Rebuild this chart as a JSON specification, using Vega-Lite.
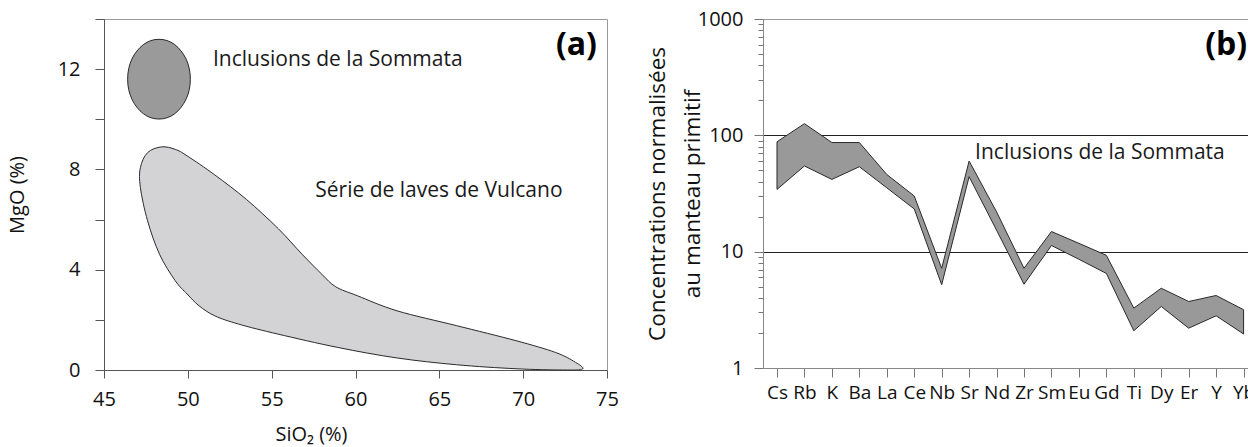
{
  "$schema": "https://vega.github.io/schema/vega-lite/v6.json",
  "background": "white",
  "padding": {"left": 6, "top": 8, "right": -6, "bottom": 0},
  "bounds": "flush",
  "spacing": 156,
  "config": {
    "font": "Open Sans",
    "view": {"stroke": "#9a9a9a", "strokeWidth": 1},
    "axis": {
      "labelFont": "Open Sans", "titleFont": "Open Sans",
      "labelColor": "#111", "titleColor": "#111", "titleFontWeight": "normal",
      "grid": false, "labelFontSize": 20, "titleFontSize": 20,
      "domainColor": "#555", "tickColor": "#555", "domainWidth": 1, "tickWidth": 1,
      "labelFlush": false, "labelOverlap": false, "labelBound": false
    },
    "text": {"font": "Open Sans", "color": "#1a1a1a"}
  },
  "datasets": {
    "vulcano": [
      {"i": 1, "SiO2": 48.43, "MgO": 8.90},
      {"i": 2, "SiO2": 49.25, "MgO": 8.80},
      {"i": 3, "SiO2": 49.96, "MgO": 8.54},
      {"i": 4, "SiO2": 51.61, "MgO": 7.78},
      {"i": 5, "SiO2": 53.50, "MgO": 6.80},
      {"i": 6, "SiO2": 55.39, "MgO": 5.64},
      {"i": 7, "SiO2": 56.81, "MgO": 4.62},
      {"i": 8, "SiO2": 57.99, "MgO": 3.82},
      {"i": 9, "SiO2": 58.82, "MgO": 3.32},
      {"i": 10, "SiO2": 60.12, "MgO": 2.96},
      {"i": 11, "SiO2": 62.48, "MgO": 2.36},
      {"i": 12, "SiO2": 66.02, "MgO": 1.77},
      {"i": 13, "SiO2": 69.57, "MgO": 1.17},
      {"i": 14, "SiO2": 71.93, "MgO": 0.70},
      {"i": 15, "SiO2": 73.11, "MgO": 0.31},
      {"i": 16, "SiO2": 73.54, "MgO": 0.04},
      {"i": 17, "SiO2": 72.40, "MgO": 0.00},
      {"i": 18, "SiO2": 69.57, "MgO": 0.05},
      {"i": 19, "SiO2": 66.02, "MgO": 0.21},
      {"i": 20, "SiO2": 62.48, "MgO": 0.48},
      {"i": 21, "SiO2": 58.94, "MgO": 0.90},
      {"i": 22, "SiO2": 55.39, "MgO": 1.43},
      {"i": 23, "SiO2": 53.03, "MgO": 1.83},
      {"i": 24, "SiO2": 51.61, "MgO": 2.16},
      {"i": 25, "SiO2": 50.67, "MgO": 2.56},
      {"i": 26, "SiO2": 49.96, "MgO": 3.03},
      {"i": 27, "SiO2": 49.25, "MgO": 3.56},
      {"i": 28, "SiO2": 48.31, "MgO": 4.62},
      {"i": 29, "SiO2": 47.60, "MgO": 5.95},
      {"i": 30, "SiO2": 47.17, "MgO": 7.28},
      {"i": 31, "SiO2": 47.17, "MgO": 8.07},
      {"i": 32, "SiO2": 47.60, "MgO": 8.67}
    ],
    "sommata": [
      {"i": 1, "SiO2": 50.15, "MgO": 11.60},
      {"i": 2, "SiO2": 50.09, "MgO": 12.01},
      {"i": 3, "SiO2": 49.90, "MgO": 12.40},
      {"i": 4, "SiO2": 49.60, "MgO": 12.72},
      {"i": 5, "SiO2": 49.22, "MgO": 12.98},
      {"i": 6, "SiO2": 48.76, "MgO": 13.14},
      {"i": 7, "SiO2": 48.28, "MgO": 13.19},
      {"i": 8, "SiO2": 47.80, "MgO": 13.14},
      {"i": 9, "SiO2": 47.35, "MgO": 12.98},
      {"i": 10, "SiO2": 46.96, "MgO": 12.72},
      {"i": 11, "SiO2": 46.66, "MgO": 12.40},
      {"i": 12, "SiO2": 46.47, "MgO": 12.01},
      {"i": 13, "SiO2": 46.41, "MgO": 11.60},
      {"i": 14, "SiO2": 46.47, "MgO": 11.19},
      {"i": 15, "SiO2": 46.66, "MgO": 10.81},
      {"i": 16, "SiO2": 46.96, "MgO": 10.48},
      {"i": 17, "SiO2": 47.35, "MgO": 10.22},
      {"i": 18, "SiO2": 47.80, "MgO": 10.06},
      {"i": 19, "SiO2": 48.28, "MgO": 10.01},
      {"i": 20, "SiO2": 48.76, "MgO": 10.06},
      {"i": 21, "SiO2": 49.22, "MgO": 10.22},
      {"i": 22, "SiO2": 49.60, "MgO": 10.48},
      {"i": 23, "SiO2": 49.90, "MgO": 10.81},
      {"i": 24, "SiO2": 50.09, "MgO": 11.19}
    ],
    "spider": [
      {"element": "Cs", "hi": 88, "lo": 34.3},
      {"element": "Rb", "hi": 126, "lo": 54.5},
      {"element": "K", "hi": 86.7, "lo": 41.8},
      {"element": "Ba", "hi": 86.7, "lo": 53.7},
      {"element": "La", "hi": 46.1, "lo": 35.4},
      {"element": "Ce", "hi": 30.1, "lo": 23.3},
      {"element": "Nb", "hi": 7.2, "lo": 5.2},
      {"element": "Sr", "hi": 60.1, "lo": 44.1},
      {"element": "Nd", "hi": 22, "lo": 15.3},
      {"element": "Zr", "hi": 7.2, "lo": 5.25},
      {"element": "Sm", "hi": 14.9, "lo": 11.3},
      {"element": "Eu", "hi": 11.8, "lo": 8.6},
      {"element": "Gd", "hi": 9.3, "lo": 6.5},
      {"element": "Ti", "hi": 3.27, "lo": 2.09},
      {"element": "Dy", "hi": 4.85, "lo": 3.38},
      {"element": "Er", "hi": 3.73, "lo": 2.2},
      {"element": "Y", "hi": 4.2, "lo": 2.81},
      {"element": "Yb", "hi": 3.17, "lo": 1.96}
    ]
  },
  "hconcat": [
    {
      "width": 503,
      "height": 351,
      "encoding": {
        "x": {
          "field": "SiO2", "type": "quantitative",
          "scale": {"domain": [45, 75], "nice": false, "zero": false},
          "axis": {
            "values": [45, 50, 55, 60, 65, 70, 75],
            "tickSize": 8, "labelPadding": 11,
            "title": "SiO₂ (%)", "titleX": 207, "titlePadding": 15
          }
        },
        "y": {
          "field": "MgO", "type": "quantitative",
          "scale": {"domain": [0, 14], "nice": false, "zero": false},
          "axis": {
            "values": [0, 2, 4, 6, 8, 10, 12, 14],
            "labelExpr": "(datum.value % 4 == 0 && datum.value < 14) ? datum.label : ''",
            "tickSize": 9, "labelPadding": 15,
            "title": "MgO (%)", "titlePadding": 31,
            "minExtent": 46, "maxExtent": 46
          }
        }
      },
      "layer": [
        {
          "data": {"name": "vulcano"},
          "mark": {"type": "line", "interpolate": "cardinal-closed", "fill": "#d3d3d5", "stroke": "#2a2a2a", "strokeWidth": 1},
          "encoding": {"order": {"field": "i", "type": "quantitative"}}
        },
        {
          "data": {"name": "sommata"},
          "mark": {"type": "line", "interpolate": "cardinal-closed", "fill": "#9a9a9a", "stroke": "#2a2a2a", "strokeWidth": 1},
          "encoding": {"order": {"field": "i", "type": "quantitative"}}
        },
        {
          "data": {"values": [
            {"SiO2": 51.5, "MgO": 12.13, "label": "Inclusions de la Sommata"},
            {"SiO2": 57.6, "MgO": 6.9, "label": "Série de laves de Vulcano"}
          ]},
          "mark": {"type": "text", "align": "left", "baseline": "alphabetic", "fontSize": 21},
          "encoding": {"text": {"field": "label"}}
        },
        {
          "data": {"values": [{"SiO2": 74.4, "MgO": 12.96, "label": "(a)"}]},
          "mark": {"type": "text", "align": "right", "baseline": "middle", "fontSize": 32, "fontWeight": "bold", "color": "#000"},
          "encoding": {"text": {"field": "label"}}
        }
      ]
    },
    {
      "width": 486.3,
      "height": 349,
      "encoding": {
        "x": {
          "field": "element", "type": "nominal",
          "scale": {
            "type": "point",
            "domain": ["Cs", "Rb", "K", "Ba", "La", "Ce", "Nb", "Sr", "Nd", "Zr", "Sm", "Eu", "Gd", "Ti", "Dy", "Er", "Y", "Yb"],
            "padding": 0.359, "align": 0.71
          },
          "axis": {
            "title": null, "labelAngle": 0, "tickSize": 9, "labelPadding": 6,
            "domainColor": "#888", "tickColor": "#777", "labelFontSize": 19
          }
        },
        "y": {
          "field": "hi", "type": "quantitative",
          "scale": {"type": "log", "domain": [1, 1000], "nice": false},
          "axis": {
            "values": [1, 2, 3, 4, 5, 6, 7, 8, 9, 10, 20, 30, 40, 50, 60, 70, 80, 90, 100, 200, 300, 400, 500, 600, 700, 800, 900, 1000],
            "format": "d",
            "labelExpr": "indexof(['1', '10', '100', '1000'], datum.label) >= 0 ? datum.label : ''",
            "tickSize": {"condition": {"test": "indexof([1, 10, 100, 1000], datum.value) >= 0", "value": 9}, "value": 5},
            "grid": true, "gridColor": "#222", "gridWidth": 1,
            "gridOpacity": {"condition": {"test": "datum.value == 10 || datum.value == 100", "value": 1}, "value": 0},
            "labelPadding": 11,
            "title": ["Concentrations normalisées", "au manteau primitif"],
            "titleFontSize": 22.5, "titleLineHeight": 35, "titlePadding": 11,
            "minExtent": 48, "maxExtent": 48,
            "domainColor": "#888", "tickColor": "#777"
          }
        }
      },
      "layer": [
        {
          "data": {"name": "spider"},
          "mark": {"type": "area", "fill": "#999999", "stroke": "#2a2a2a", "strokeWidth": 1, "strokeJoin": "miter", "fillOpacity": 1},
          "encoding": {"y2": {"field": "lo"}}
        },
        {
          "data": {"values": [{"element": "Sr", "hi": 70, "label": "Inclusions de la Sommata"}]},
          "mark": {"type": "text", "align": "left", "baseline": "middle", "fontSize": 21, "dx": 6},
          "encoding": {"text": {"field": "label"}}
        },
        {
          "data": {"values": [{"element": "Y", "hi": 600, "label": "(b)"}]},
          "mark": {"type": "text", "align": "left", "baseline": "middle", "fontSize": 32, "fontWeight": "bold", "color": "#000", "dx": -11, "clip": true},
          "encoding": {"text": {"field": "label"}}
        }
      ]
    }
  ]
}
